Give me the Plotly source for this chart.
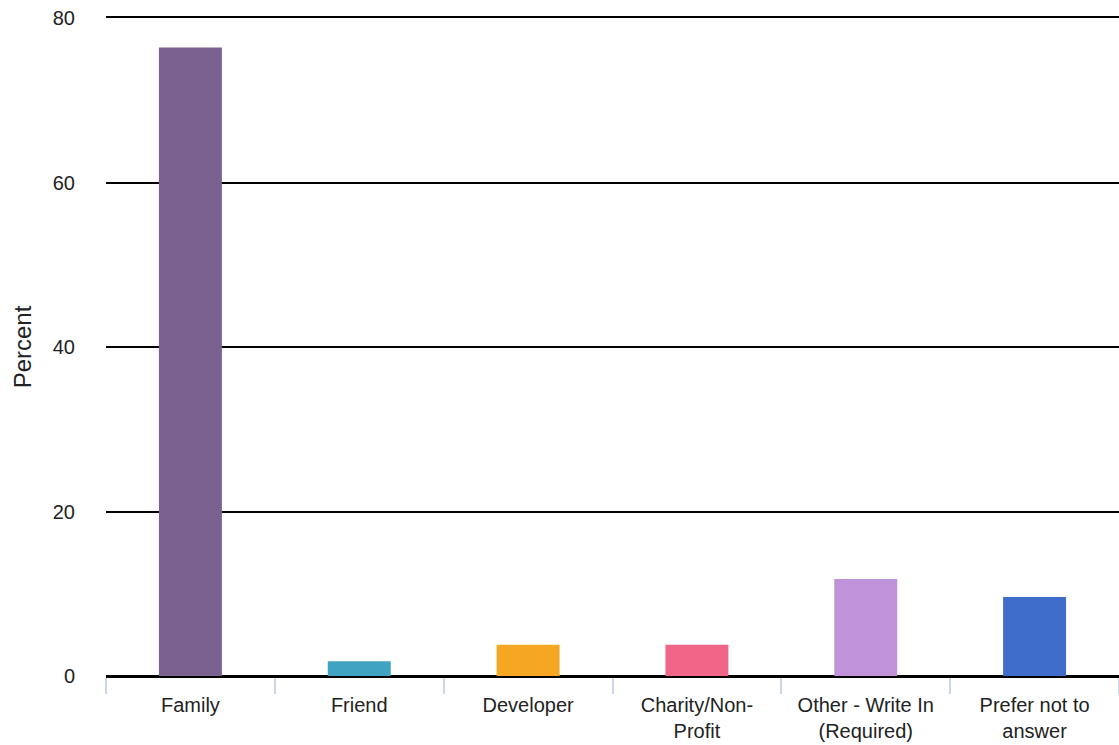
import plotly.graph_objects as go

categories = ["Family", "Friend", "Developer", "Charity/Non-<br>Profit",
              "Other - Write In<br>(Required)", "Prefer not to<br>answer"]
values = [76.4, 1.8, 3.8, 3.8, 11.8, 9.6]
colors = ["#7b6190", "#41a3c2", "#f5a623", "#f06588", "#c092d9", "#3e6dcb"]
y_ticks = [0, 20, 40, 60, 80]

fig = go.Figure(go.Bar(x=categories, y=values, marker_color=colors,
                       marker_line_width=0, width=0.373))

fig.update_layout(
    width=1119, height=745,
    margin=dict(l=106, r=0, t=18, b=69, autoexpand=False),
    plot_bgcolor="white", paper_bgcolor="white",
    font=dict(family="Liberation Sans, Arial, sans-serif", color="#222222", size=20),
    showlegend=False,
)
fig.update_yaxes(range=[0, 80], tickvals=y_ticks, showgrid=True, gridcolor="black",
                 gridwidth=1.5, zeroline=True, zerolinecolor="black", zerolinewidth=2.5,
                 ticklabelstandoff=30, tickfont=dict(size=20), automargin=False,
                 ticklabeloverflow="allow",
                 title=dict(text="Percent", font=dict(size=24), standoff=14))
fig.update_xaxes(ticks="outside", tickson="boundaries", ticklen=16, tickwidth=1.5,
                 tickcolor="#ccd6eb", showline=True, linecolor="black", linewidth=1.5,
                 mirror=True, ticklabelstandoff=10, tickfont=dict(size=20),
                 ticklabeloverflow="allow", automargin=False)

fig.write_html(
    "out.html",
    config={"displayModeBar": False},
    post_script="document.body.style.margin='0';document.body.style.overflow='hidden';",
)
